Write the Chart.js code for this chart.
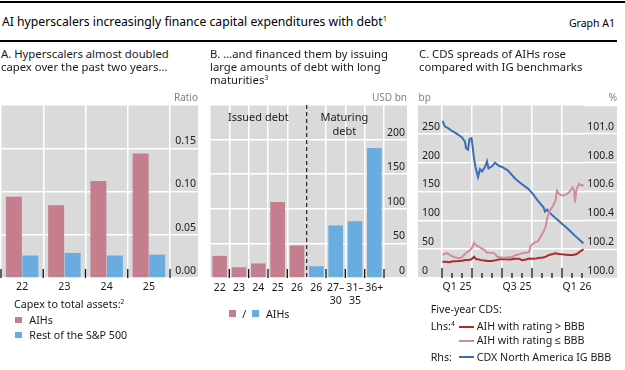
<!DOCTYPE html>
<html><head><meta charset="utf-8">
<script src="https://cdn.jsdelivr.net/npm/chart.js@4"></script>
<style>
html,body{margin:0;padding:0;background:#fff;}
#wrap{position:relative;width:625px;height:370px;overflow:hidden;font-family:'Noto Sans',sans-serif;color:#000;}
.t{position:absolute;white-space:nowrap;}
.box{position:absolute;}
canvas{position:absolute;}
sup{font-size:0.62em;vertical-align:baseline;position:relative;top:-0.6em;}
</style></head><body>
<div id="wrap">
  <div class="box" style="left:0;top:1px;width:625px;height:2px;background:#000"></div>
  <div class="box" style="left:0;top:40px;width:617px;height:1.5px;background:#000"></div>
  <canvas id="cA" width="200" height="218" style="left:0;top:95px"></canvas>
  <canvas id="cB" width="197" height="218" style="left:210px;top:95px"></canvas>
  <canvas id="cC" width="199" height="218" style="left:418px;top:95px"></canvas>
</div>
<script>
// ---------- data ----------
const capexYears = ['22', '23', '24', '25'];
const capexAIHs = [0.094, 0.084, 0.112, 0.144];
const capexRest = [0.026, 0.029, 0.026, 0.027];

const debtCategories = ['22', '23', '24', '25', '26', '26', ['27–', '30'], ['31–', '35'], '36+'];
const issuedDebt = [32, 15.5, 21, 110, 47, null, null, null, null];
const maturingDebt = [null, null, null, null, null, 17, 76, 82, 188];

const cdsQuarterLabels = ['Q1 25', 'Q3 25', 'Q1 26'];
const cdsLabelMonths = [1.5, 7.5, 13.5];
const cdsGridMonths = [0, 3, 6, 9, 12];

const cdsAboveMonths = [0.05,0.4,0.7,1.0,1.3,1.7,2.0,2.3,2.6,2.9,3.1,3.2,3.4,3.6,3.9,4.2,4.6,5.0,5.4,5.8,6.3,6.8,7.3,7.7,8.0,8.4,8.7,9.0,9.4,9.8,10.1,10.4,10.7,11.0,11.3,11.7,12.0,12.4,12.8,13.1,13.4,13.6,13.8,14.0,14.15];
const cdsAbove = [28,28,27.5,28.5,29,29.5,30,31,31,32,35,37,33,32.5,31,30.5,29.5,29.6,31,32.5,32.5,32,33.5,33.5,31,32,33.6,33.5,34,35,35.5,37,40,41,43,41.5,41,40.5,40,40,41,43,46,48,50];

const cdsBelowMonths = [0.05,0.3,0.5,0.8,1.0,1.3,1.7,2.0,2.2,2.5,2.7,3.0,3.2,3.35,3.5,3.8,4.0,4.3,4.5,5.0,5.3,5.5,6.0,6.4,6.7,7.0,7.3,7.7,8.2,8.5,8.7,8.85,9.2,9.6,9.8,10.0,10.2,10.35,10.5,10.7,10.9,11.1,11.35,11.5,11.7,11.9,12.2,12.5,12.8,13.05,13.2,13.3,13.45,13.7,14.0,14.15];
const cdsBelow = [40,42,43,40,38,36,34,36,40,45,47,52,61,58,56,53,51,48,44,44,42,37,35.5,35,36,36,39.5,41,44,44,45,55,61,64,70,76,82,88,102,114,120,125,134,151,146,144,143,146,150,157,151,131,154,163,160,162];

const cdxMonths = [0.05,0.3,0.6,1.0,1.5,2.0,2.3,2.4,2.6,2.75,2.95,3.05,3.2,3.35,3.6,3.8,4.0,4.3,4.5,4.65,5.0,5.3,5.65,6.0,6.6,7.3,8.0,8.6,9.0,9.6,10.15,10.3,10.5,10.8,11.6,12.6,13.5,14.15];
const cdxBBB = [101.09,101.05,101.04,101.02,101.0,100.975,100.945,100.9,100.89,100.965,100.97,100.92,100.83,100.77,100.70,100.755,100.74,100.77,100.81,100.76,100.775,100.80,100.78,100.77,100.745,100.69,100.65,100.62,100.59,100.535,100.49,100.46,100.475,100.45,100.40,100.34,100.28,100.24];

// ---------- styles ----------
const GRAY = '#dadada', WHITE = '#ffffff';
const PINK = '#c47e8e', BLUE = '#68ace0';
const LINE_PINK = '#d28c98', LINE_RED = '#ad2a2c', LINE_BLUE = '#3c6eb4';
const TEXT = '#1a1a1a', UNIT = '#808080';

// ---------- text ----------
const wrap = document.getElementById('wrap');
function txt(html, x, base, size, o = {}) {
  const d = document.createElement('div');
  d.className = 't'; d.innerHTML = html;
  const lh = Math.round(size * 1.3);
  d.style.fontSize = size + 'px'; d.style.lineHeight = lh + 'px';
  d.style.top = (base - lh / 2 - 0.388 * size) + 'px';
  if (o.right) d.style.right = (625 - x) + 'px'; else d.style.left = x + 'px';
  d.style.color = o.color || TEXT;
  wrap.appendChild(d);
}
function box(x, y, w, h, c) {
  const d = document.createElement('div'); d.className = 'box';
  Object.assign(d.style, {left: x + 'px', top: y + 'px', width: w + 'px', height: h + 'px', background: c});
  wrap.appendChild(d);
}

txt('AI hyperscalers increasingly finance capital expenditures with debt<sup>1</sup>', 2, 26.7, 12.2, {color: '#000'});
txt('Graph A1', 615, 26.7, 10.5, {right: true, color: '#000'});

txt('A. Hyperscalers almost doubled', 1, 58.3, 11.3);
txt('capex over the past two years…', 1, 71.3, 11.3);
txt('B. …and financed them by issuing', 210, 58.3, 11.3);
txt('large amounts of debt with long', 210, 71.3, 11.3);
txt('maturities<sup>3</sup>', 210, 84.3, 11.3);
txt('C. CDS spreads of AIHs rose', 419, 58.3, 11.3);
txt('compared with IG benchmarks', 419, 71.3, 11.3);

txt('Ratio', 198, 101, 10, {right: true, color: UNIT});
txt('USD bn', 407, 101, 10, {right: true, color: UNIT});
txt('bp', 418.5, 101, 10, {color: UNIT});
txt('%', 617, 101, 10, {right: true, color: UNIT});

// legend A
txt('Capex to total assets:<sup>2</sup>', 14, 308.3, 10.7);
box(15, 316.7, 6.7, 6.7, PINK); txt('AIHs', 29.3, 324, 10.7);
box(15, 331.7, 6.7, 6.7, BLUE); txt('Rest of the S&amp;P 500', 29.3, 339, 10.7);
// legend B
box(229, 310, 6.7, 6.7, PINK); txt('/', 242.3, 318, 10.7);
box(252.3, 310, 6.7, 6.7, BLUE); txt('AIHs', 266, 318, 10.7);
// legend C
txt('Five-year CDS:', 430.7, 313.3, 10.7);
txt('Lhs:<sup>4</sup>', 430.7, 330, 10.7);
box(459, 325.5, 15, 2.2, LINE_RED); txt('AIH with rating &gt; BBB', 476.7, 330, 10.7);
box(459, 339.5, 15, 2.2, LINE_PINK); txt('AIH with rating ≤ BBB', 476.7, 344, 10.7);
txt('Rhs:', 430.7, 360.7, 10.7);
box(459, 355.8, 15, 2.2, LINE_BLUE); txt('CDX North America IG BBB', 476.7, 360.7, 10.7);

// ---------- chart helpers ----------
Chart.defaults.font.family = "'Noto Sans', sans-serif";
Chart.defaults.font.size = 10.5;
Chart.defaults.color = TEXT;
Chart.defaults.animation = false;

function bgPlugin(x0f, x1f) {
  return {id: 'bg', beforeDraw(chart) {
    const {ctx, chartArea: {top, bottom}} = chart;
    const x0 = x0f(chart), x1 = x1f(chart);
    ctx.save(); ctx.fillStyle = GRAY; ctx.fillRect(x0, top, x1 - x0, bottom - top); ctx.restore();
  }};
}
function tickPlugin(listf) {
  return {id: 'tm', afterDatasetsDraw(chart) {
    const {ctx, chartArea: {bottom}} = chart;
    ctx.save(); ctx.strokeStyle = '#111'; ctx.lineWidth = 1.3;
    for (const [x, len] of listf(chart)) {
      ctx.beginPath(); ctx.moveTo(x, bottom); ctx.lineTo(x, bottom - len); ctx.stroke();
    }
    ctx.restore();
  }};
}
function catBounds(scale, n) {
  const w = scale.getPixelForValue(1) - scale.getPixelForValue(0);
  const first = scale.getPixelForValue(0) - w / 2;
  const out = [];
  for (let i = 0; i <= n; i++) out.push(first + i * w);
  return out;
}
const noUI = {legend: {display: false}, tooltip: {enabled: false}};

// ---------- Panel A ----------
new Chart(document.getElementById('cA'), {
  type: 'bar',
  data: {labels: capexYears, datasets: [
    {label: 'AIHs', data: capexAIHs, backgroundColor: PINK},
    {label: 'Rest of the S&P 500', data: capexRest, backgroundColor: BLUE}
  ]},
  options: {
    responsive: false, animation: false,
    layout: {padding: {left: 1, right: 4, top: 10, bottom: 0}},
    plugins: noUI,
    datasets: {bar: {categoryPercentage: 0.78, barPercentage: 0.97}},
    scales: {
      x: {grid: {offset: true, color: WHITE, lineWidth: 1.5, drawTicks: false}, border: {display: false},
          ticks: {padding: 3, maxRotation: 0, autoSkip: false}, afterFit(s) { s.height = 35; }},
      y: {position: 'right', min: 0, max: 0.2,
          grid: {color: WHITE, lineWidth: 1.5, drawTicks: true, tickLength: 28, tickColor: WHITE, tickWidth: 1.5},
          border: {display: false},
          ticks: {stepSize: 0.05, crossAlign: 'far', labelOffset: -7, callback: v => v > 0.19 ? '' : v.toFixed(2)},
          afterFit(s) { s.width = 26; }}
    }
  },
  plugins: [
    bgPlugin(c => c.chartArea.left - 1, c => c.scales.y.right + 2),
    tickPlugin(c => catBounds(c.scales.x, capexYears.length).map(x => [x, 9]))
  ]
});

// ---------- Panel B ----------
const sectionLabels = {id: 'sect', afterDatasetsDraw(chart) {
  const {ctx, chartArea: {top, bottom}} = chart;
  const b = catBounds(chart.scales.x, debtCategories.length);
  ctx.save();
  ctx.strokeStyle = '#222'; ctx.lineWidth = 1.2; ctx.setLineDash([4, 3]);
  ctx.beginPath(); ctx.moveTo(b[5], top); ctx.lineTo(b[5], bottom); ctx.stroke();
  ctx.setLineDash([]);
  ctx.fillStyle = TEXT; ctx.font = "11px 'Noto Sans'"; ctx.textAlign = 'center'; ctx.textBaseline = 'alphabetic';
  ctx.fillText('Issued debt', (b[0] + b[5]) / 2, top + 16);
  ctx.fillText('Maturing', (b[5] + b[9]) / 2 - 1, top + 16);
  ctx.fillText('debt', (b[5] + b[9]) / 2 - 1, top + 29.5);
  ctx.restore();
}};
new Chart(document.getElementById('cB'), {
  type: 'bar',
  data: {labels: debtCategories, datasets: [
    {label: 'Issued debt (AIHs)', data: issuedDebt, backgroundColor: PINK},
    {label: 'Maturing debt (AIHs)', data: maturingDebt, backgroundColor: BLUE}
  ]},
  options: {
    responsive: false, animation: false,
    layout: {padding: {left: 0, right: 2, top: 10, bottom: 0}},
    plugins: noUI,
    datasets: {bar: {categoryPercentage: 0.78, barPercentage: 0.97, grouped: false}},
    scales: {
      x: {grid: {offset: true, color: c => c.index === 5 ? 'rgba(0,0,0,0)' : WHITE, lineWidth: 1.5, drawTicks: false},
          border: {display: false},
          ticks: {padding: 3, maxRotation: 0, autoSkip: false, font: {lineHeight: 1.3}}, afterFit(s) { s.height = 35; }},
      y: {position: 'right', min: 0, max: 250,
          grid: {color: WHITE, lineWidth: 1.5, drawTicks: true, tickLength: 23, tickColor: WHITE, tickWidth: 1.5},
          border: {display: false},
          ticks: {stepSize: 50, crossAlign: 'far', labelOffset: -7, callback: v => v >= 250 ? '' : String(v)},
          afterFit(s) { s.width = 21; }}
    }
  },
  plugins: [
    bgPlugin(c => c.chartArea.left, c => c.scales.y.right + 2),
    sectionLabels,
    tickPlugin(c => catBounds(c.scales.x, debtCategories.length).map((x, i) => [x, 9]).filter((p, i) => i > 0 && i !== 5))
  ]
});

// ---------- Panel C ----------
const zip = (xs, ys) => xs.map((x, i) => ({x, y: ys[i]}));
const cdsTickMonths = [...cdsGridMonths, ...cdsLabelMonths].sort((a, b) => a - b);
new Chart(document.getElementById('cC'), {
  type: 'line',
  data: {datasets: [
    {label: 'AIH with rating ≤ BBB', data: zip(cdsBelowMonths, cdsBelow), borderColor: LINE_PINK, yAxisID: 'y'},
    {label: 'AIH with rating > BBB', data: zip(cdsAboveMonths, cdsAbove), borderColor: LINE_RED, yAxisID: 'y'},
    {label: 'CDX North America IG BBB', data: zip(cdxMonths, cdxBBB), borderColor: LINE_BLUE, yAxisID: 'y1'}
  ]},
  options: {
    responsive: false, animation: false,
    layout: {padding: {left: 4, right: 3, top: 10, bottom: 0}},
    plugins: noUI,
    elements: {point: {radius: 0}, line: {borderWidth: 2, tension: 0}},
    scales: {
      x: {type: 'linear', min: 0, max: 14.2,
          afterBuildTicks(s) { s.ticks = cdsTickMonths.map(v => ({value: v})); },
          grid: {color: c => (c.tick && cdsGridMonths.includes(c.tick.value)) ? WHITE : 'rgba(0,0,0,0)', lineWidth: 1.5, drawTicks: false},
          border: {display: false},
          ticks: {padding: 3, maxRotation: 0, autoSkip: false,
                  callback: v => { const i = cdsLabelMonths.indexOf(v); return i >= 0 ? cdsQuarterLabels[i] : ''; }},
          afterFit(s) { s.height = 35; }},
      y: {position: 'left', min: 0, max: 300,
          grid: {color: WHITE, lineWidth: 1.5, drawTicks: true, tickLength: 24, tickColor: WHITE, tickWidth: 1.5},
          border: {display: false},
          ticks: {stepSize: 50, crossAlign: 'far', labelOffset: -7, callback: v => v >= 300 ? '' : String(v)},
          afterFit(s) { s.width = 20; }},
      y1: {position: 'right', min: 100, max: 101.2,
          grid: {drawOnChartArea: false, drawTicks: true, tickLength: 33, tickColor: WHITE, tickWidth: 1.5},
          border: {display: false},
          ticks: {stepSize: 0.2, crossAlign: 'far', labelOffset: -7, callback: v => v > 101.1 ? '' : v.toFixed(1)},
          afterFit(s) { s.width = 30; }}
    }
  },
  plugins: [
    bgPlugin(c => c.scales.y.left - 4, c => c.scales.y1.right + 3),
    tickPlugin(c => {
      const out = [];
      for (let m = 0; m <= 14; m++) out.push([c.scales.x.getPixelForValue(m), m % 3 === 0 ? 10 : 5]);
      return out;
    })
  ]
});
</script>
</body></html>
